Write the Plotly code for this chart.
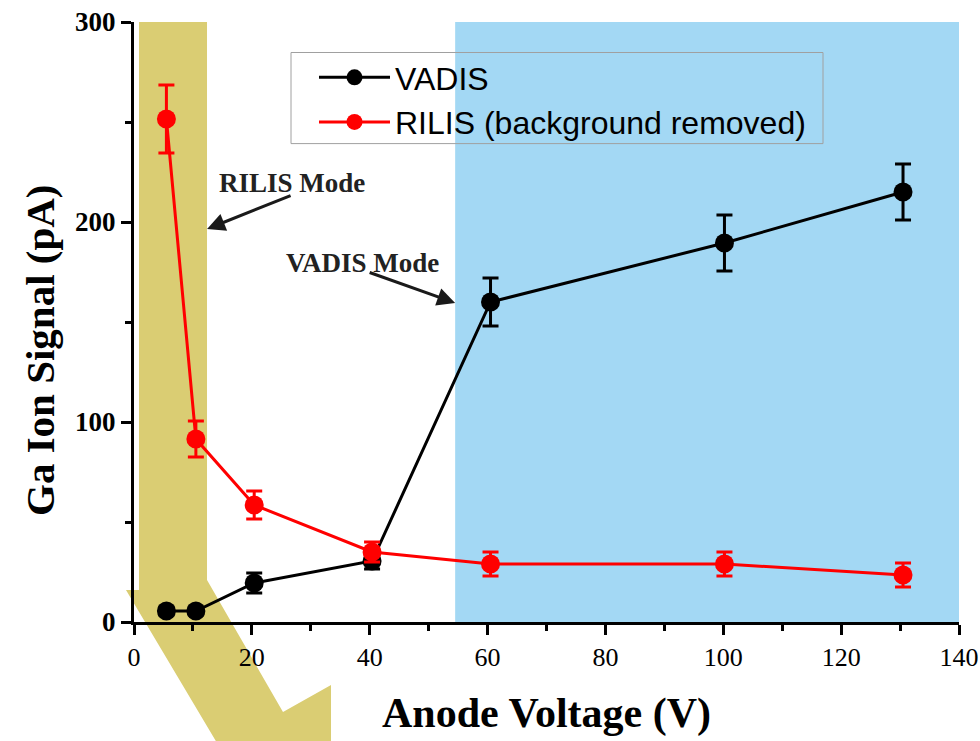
import plotly.graph_objects as go

# ---- data ----
vadis_x = [5.5, 10.5, 20.4, 40.4, 60.5, 100.2, 130.5]
vadis_y = [5.5, 5.5, 19.5, 30.5, 160, 189.5, 215]
vadis_err = [2, 2, 5, 4, 12, 14, 14]

rilis_x = [5.5, 10.5, 20.4, 40.4, 60.5, 100.2, 130.5]
rilis_y = [251.5, 91.5, 58.5, 35, 29, 29, 23.5]
rilis_err = [17, 9, 7, 5, 6, 6, 6]

x_ticks = [0, 20, 40, 60, 80, 100, 120, 140]
y_ticks = [0, 100, 200, 300]

vadis_region = [54.5, 140]

# body margin is removed via post_script, so figure == window
OFF = 0
W, H = 980, 741
L, T = 134, 22
PW, PH = 825, 600
R, B = W - L - PW, H - T - PH


def px(xs, ys):
    """screen pixel -> paper coords"""
    return (xs - OFF - L) / PW, (T + PH - (ys - OFF)) / PH


gold_pts = [(139, 22), (207, 22), (207, 580), (283, 712), (331, 685), (331, 780),
            (239, 780), (126, 590), (139, 590)]
path = "M " + " L ".join(f"{px(a, b)[0]:.4f},{px(a, b)[1]:.4f}" for a, b in gold_pts) + " Z"

serif = "Liberation Serif"

fig = go.Figure()
fig.add_trace(go.Scatter(
    x=vadis_x, y=vadis_y, name="VADIS", mode="lines+markers",
    line=dict(color="black", width=3),
    marker=dict(color="black", size=19),
    error_y=dict(type="data", array=vadis_err, color="black", thickness=3, width=8),
))
fig.add_trace(go.Scatter(
    x=rilis_x, y=rilis_y, name="RILIS (background removed)", mode="lines+markers",
    line=dict(color="#FF0000", width=3),
    marker=dict(color="#FF0000", size=19),
    error_y=dict(type="data", array=rilis_err, color="#FF0000", thickness=3, width=8),
))

fig.add_shape(type="rect", xref="x", yref="y", x0=vadis_region[0], x1=vadis_region[1],
              y0=0, y1=300, fillcolor="#A3D8F4", line=dict(width=0), layer="below")
fig.add_shape(type="path", xref="paper", yref="paper", path=path,
              fillcolor="#DACD73", line=dict(width=0), layer="below")
# legend frame
lx0, ly0 = px(291, 52.5)
lx1, ly1 = px(823, 143.6)
fig.add_shape(type="rect", xref="paper", yref="paper", x0=lx0, x1=lx1, y0=ly1, y1=ly0,
              line=dict(color="#A0A0A0", width=1), fillcolor="rgba(0,0,0,0)", layer="above")

# annotations
fig.add_annotation(x=26.8, y=219.5, text="<b>RILIS Mode</b>", showarrow=False,
                   font=dict(family=serif, size=27, color="#222222"))
fig.add_annotation(x=38.7, y=179.5, text="<b>VADIS Mode</b>", showarrow=False,
                   font=dict(family=serif, size=27, color="#222222"))
fig.add_annotation(x=12.4, y=196.5, ax=85, ay=-34, text="", showarrow=True,
                   arrowhead=2, arrowsize=1.2, arrowwidth=3, arrowcolor="#1a1a1a")
fig.add_annotation(x=54.5, y=159.5, ax=-87, ay=-31, text="", showarrow=True,
                   arrowhead=2, arrowsize=1.2, arrowwidth=3, arrowcolor="#1a1a1a")

# y axis title
ytx, yty = px(40, 350)
fig.add_annotation(xref="paper", yref="paper", x=ytx, y=yty, xanchor="center", yanchor="middle",
                   text="<b>Ga Ion Signal (pA)</b>", textangle=-90, showarrow=False,
                   font=dict(family=serif, size=41, color="black"))

legx, legy = px(314, 50)
fig.update_layout(
    width=W, height=H,
    margin=dict(l=L, r=R, t=T, b=B, autoexpand=False),
    paper_bgcolor="white", plot_bgcolor="rgba(0,0,0,0)",
    showlegend=True,
    legend=dict(x=legx, y=legy, xanchor="left", yanchor="top",
                bgcolor="rgba(0,0,0,0)", borderwidth=0,
                font=dict(family="Liberation Sans", size=32, color="black"),
                itemwidth=71, tracegroupgap=0),
    xaxis=dict(
        automargin=False, ticklabeloverflow="allow",
        range=[0, 140], tickvals=x_ticks, showgrid=False, zeroline=False,
        showline=True, linecolor="black", linewidth=3,
        ticks="outside", ticklen=10, tickwidth=3, tickcolor="black",
        minor=dict(dtick=10, tick0=0, ticks="outside", ticklen=6, tickwidth=3, tickcolor="black"),
        tickfont=dict(family=serif, size=26, color="black"),
        title=dict(text="<b>Anode Voltage (V)</b>", font=dict(family=serif, size=42, color="black"),
                   standoff=27),
    ),
    yaxis=dict(
        automargin=False, ticklabeloverflow="allow",
        range=[0, 300], tickvals=y_ticks, showgrid=False, zeroline=False,
        showline=True, linecolor="black", linewidth=3,
        ticks="outside", ticklen=10, tickwidth=3, tickcolor="black",
        minor=dict(dtick=50, tick0=0, ticks="outside", ticklen=6, tickwidth=3, tickcolor="black"),
        tickfont=dict(family=serif, size=27, color="black", weight="bold"),
    ),
)

fig.write_html("out.html",
               config={"displayModeBar": False},
               post_script="document.body.style.margin='0';document.body.style.overflow='hidden';")
